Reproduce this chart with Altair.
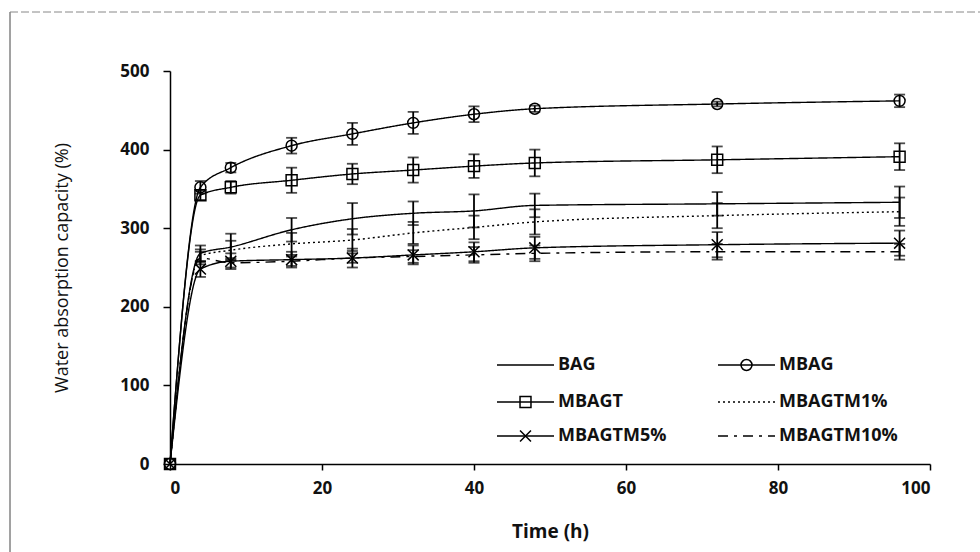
import altair as alt
import pandas as pd

times = [0, 4, 8, 16, 24, 32, 40, 48, 72, 96]
series_names = ["BAG", "MBAG", "MBAGT", "MBAGTM1%", "MBAGTM5%", "MBAGTM10%"]

bag = [0, 268, 276, 298, 312, 319, 322, 329, 331, 333]
bag_err = [0, 10, 17, 15, 20, 15, 21, 15, 15, 20]
mbag = [0, 352, 377, 405, 420, 434, 445, 452, 458, 462]
mbag_err = [0, 8, 6, 10, 14, 14, 10, 4, 3, 8]
mbagt = [0, 342, 352, 361, 369, 374, 379, 383, 387, 391]
mbagt_err = [0, 6, 8, 16, 13, 16, 15, 17, 17, 17]
mbagtm1 = [0, 265, 272, 280, 285, 294, 301, 308, 316, 321]
mbagtm1_err = [0, 8, 12, 14, 14, 14, 15, 16, 16, 18]
mbagtm5 = [0, 248, 258, 260, 262, 266, 270, 275, 279, 281]
mbagtm5_err = [0, 10, 10, 10, 12, 12, 12, 14, 16, 16]
mbagtm10 = [0, 262, 256, 258, 262, 264, 266, 268, 270, 270]
mbagtm10_err = [0, 8, 6, 6, 6, 8, 10, 10, 10, 10]

values = [bag, mbag, mbagt, mbagtm1, mbagtm5, mbagtm10]
errors = [bag_err, mbag_err, mbagt_err, mbagtm1_err, mbagtm5_err, mbagtm10_err]

rows = []
for name, vals, errs in zip(series_names, values, errors):
    for t, v, e in zip(times, vals, errs):
        rows.append({"series": name, "t": t, "v": v, "lo": v - e, "hi": v + e})
df = pd.DataFrame(rows)

FONT = "Open Sans"
dash_range = [[1, 0], [1, 0], [1, 0], [2, 3], [1, 0], [10, 6, 3, 6]]
dash_scale = alt.Scale(domain=series_names, range=dash_range)
marker_series = ["MBAG", "MBAGT", "MBAGTM5%"]
marker_shapes = ["circle", "square", "M-1,-1L1,1M1,-1L-1,1"]
shape_scale = alt.Scale(domain=marker_series, range=marker_shapes)

x_scale = alt.Scale(domain=[0, 100])
y_scale = alt.Scale(domain=[0, 500])
x_axis = alt.Axis(values=[0, 20, 40, 60, 80, 100], title="Time (h)",
                  titleFontWeight="bold", titleFontSize=19, titlePadding=26,
                  labelPadding=10, tickSize=6)
y_axis = alt.Axis(values=[0, 100, 200, 300, 400, 500],
                  title="Water absorption capacity (%)",
                  titleFontWeight="normal", titleFontSize=18, titlePadding=48,
                  labelPadding=14, tickSize=7)


def xe(field):
    return alt.X(field, scale=x_scale, axis=x_axis)


def ye(field):
    return alt.Y(field, scale=y_scale, axis=y_axis)


lines = alt.Chart(df).mark_line(color="black", strokeWidth=1.4, interpolate="monotone").encode(
    x=xe("t:Q"), y=ye("v:Q"), detail="series:N",
    strokeDash=alt.StrokeDash("series:N", scale=dash_scale, legend=None))

errbars = alt.Chart(df[df.t > 0]).mark_errorbar(
    color="black", thickness=1.8, ticks={"size": 11, "thickness": 1.8}).encode(
    x=xe("t:Q"), y=ye("lo:Q"), y2="hi:Q", detail="series:N")

pts = alt.Chart(df[df.series.isin(marker_series)]).mark_point(
    filled=False, color="black", strokeWidth=1.5, size=120, opacity=1).encode(
    x=xe("t:Q"), y=ye("v:Q"),
    shape=alt.Shape("series:N", scale=shape_scale, legend=None))

# legend (inside the plot area, two columns x three rows)
leg_col_x = [327, 548]
leg_row_y = [294, 331, 365]
leg_len = 57
leg = pd.DataFrame({"series": series_names, "col": [0, 1, 0, 1, 0, 1], "row": [0, 0, 1, 1, 2, 2]})
leg["x0"] = [leg_col_x[c] for c in leg.col]
leg["x1"] = leg["x0"] + leg_len
leg["xm"] = leg["x0"] + leg_len / 2
leg["xt"] = leg["x1"] + 4
leg["y"] = [leg_row_y[r] for r in leg.row]

leg_lines = alt.Chart(leg).mark_rule(color="black", strokeWidth=1.4).encode(
    x=alt.X("x0:Q", scale=None), x2="x1:Q", y=alt.Y("y:Q", scale=None),
    strokeDash=alt.StrokeDash("series:N", scale=dash_scale, legend=None))
leg_pts = alt.Chart(leg[leg.series.isin(marker_series)]).mark_point(
    filled=False, color="black", strokeWidth=1.5, size=120, opacity=1).encode(
    x=alt.X("xm:Q", scale=None), y=alt.Y("y:Q", scale=None),
    shape=alt.Shape("series:N", scale=shape_scale, legend=None))
leg_text = alt.Chart(leg).mark_text(align="left", baseline="middle", font=FONT,
                                    fontSize=18, fontWeight="bold", color="#111").encode(
    x=alt.X("xt:Q", scale=None), y=alt.Y("y:Q", scale=None), text="series:N")

frame = pd.DataFrame({"a": [0]})
left_border = alt.Chart(frame).mark_rule(color="#444", strokeWidth=1).encode(
    x=alt.value(-160), y=alt.value(-59), y2=alt.value(481))
top_border = alt.Chart(frame).mark_rule(color="#888", strokeWidth=1, strokeDash=[8, 3]).encode(
    x=alt.value(-160), x2=alt.value(810), y=alt.value(-59))

chart = alt.layer(lines, errbars, pts, leg_lines, leg_pts, leg_text, left_border, top_border).properties(
    width=760, height=393,
    padding={"left": 170, "top": 71, "right": 50, "bottom": 88},
    autosize=alt.AutoSizeParams(type="none"),
    background="white",
).configure_view(stroke=None).configure_axis(
    labelFont=FONT, titleFont=FONT, labelFontSize=17, labelFontWeight="bold",
    labelColor="#111", titleColor="#111", domainColor="black", tickColor="black",
    domainWidth=1.5, tickWidth=1.5, grid=False)

chart.save("out.html", embed_options={"renderer": "svg", "actions": False})
